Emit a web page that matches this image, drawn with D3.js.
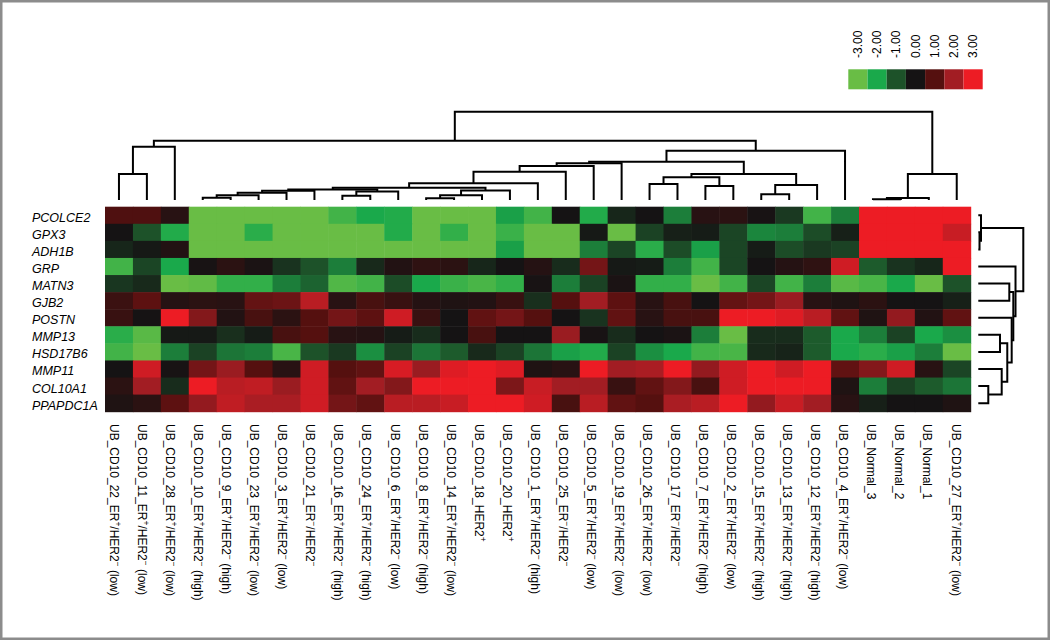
<!DOCTYPE html>
<html>
<head>
<meta charset="utf-8">
<script src="https://cdn.jsdelivr.net/npm/d3@7/dist/d3.min.js"></script>
<style>
  html, body { margin: 0; padding: 0; background: #ffffff; }
  text { font-family: "Liberation Sans", Arial, Helvetica, sans-serif; fill: #000; }
</style>
</head>
<body>
<script>
// ---------------- DATA ----------------
const colLabels = [
  "UB_CD10_22_ER⁺/HER2⁻ (low)",
  "UB_CD10_11_ER⁺/HER2⁻ (low)",
  "UB_CD10_28_ER⁺/HER2⁻ (low)",
  "UB_CD10_10_ER⁺/HER2⁻ (high)",
  "UB_CD10_9_ER⁺/HER2⁻ (high)",
  "UB_CD10_23_ER⁺/HER2⁻ (low)",
  "UB_CD10_3_ER⁺/HER2⁻ (low)",
  "UB_CD10_21_ER⁻/HER2⁻",
  "UB_CD10_16_ER⁺/HER2⁻ (high)",
  "UB_CD10_24_ER⁺/HER2⁻ (high)",
  "UB_CD10_6_ER⁺/HER2⁻ (low)",
  "UB_CD10_8_ER⁺/HER2⁻ (high)",
  "UB_CD10_14_ER⁺/HER2⁻ (low)",
  "UB_CD10_18_HER2⁺",
  "UB_CD10_20_HER2⁺",
  "UB_CD10_1_ER⁺/HER2⁻ (high)",
  "UB_CD10_25_ER⁻/HER2⁻",
  "UB_CD10_5_ER⁺/HER2⁻ (low)",
  "UB_CD10_19_ER⁺/HER2⁻ (low)",
  "UB_CD10_26_ER⁺/HER2⁻ (low)",
  "UB_CD10_17_ER⁻/HER2⁻",
  "UB_CD10_7_ER⁺/HER2⁻ (high)",
  "UB_CD10_2_ER⁺/HER2⁻ (low)",
  "UB_CD10_15_ER⁺/HER2⁻ (high)",
  "UB_CD10_13_ER⁺/HER2⁻ (high)",
  "UB_CD10_12_ER⁺/HER2⁻ (high)",
  "UB_CD10_4_ER⁺/HER2⁻ (low)",
  "UB_Normal_3",
  "UB_Normal_2",
  "UB_Normal_1",
  "UB_CD10_27_ER⁺/HER2⁻ (low)"
];

const rowLabels = ["PCOLCE2","GPX3","ADH1B","GRP","MATN3","GJB2","POSTN","MMP13","HSD17B6","MMP11","COL10A1","PPAPDC1A"];

// expression values (rows = genes, columns = samples)
const PCOLCE2  = [0.9,0.9,0.3,-3,-3,-3,-3,-3,-2.5,-2,-2.1,-3,-3,-3,-1.9,-2.5,0,-2.1,-0.3,0,-1.5,0.3,0.35,0.05,-0.6,-2.5,-1.5,3,3,3,3];
const GPX3     = [0,-1,-2.1,-3,-3,-2.2,-3,-3,-3,-3,-2.1,-3,-2.3,-3,-2.4,-3,-3,-0.1,-3,-0.75,-0.2,-0.15,-0.8,-1.6,-1.5,-0.9,-0.2,3,3,3,2.5];
const ADH1B    = [-0.3,-0.1,0.2,-3,-3,-3,-3,-3,-3,-3,-3,-3,-3,-3,-1.9,-3,-3,-1.5,-0.8,-2.2,-0.9,-1.9,-0.8,-0.15,-0.9,-0.6,-0.75,3,3,3,3];
const GRP      = [-2.5,-0.8,-2,0.05,0.35,0.1,-0.5,-1,-1.5,-0.35,0.2,0.4,0.35,-0.3,0,0.25,-0.4,1.4,-0.1,-0.15,-1.5,-2.5,-0.8,0,0.25,0.4,2.6,-1.1,-0.5,-0.3,3];
const MATN3    = [-0.55,-0.35,-3,-2.9,-2.3,-2.3,-1.5,-1.2,-2.7,-2.5,-0.9,-2,-2.4,-2.6,-2.3,0.05,-1.5,-0.75,0.1,-2.3,-2.3,-3,-2.5,-0.8,-2.5,-1.5,-2.8,-2.6,-2,-3,-1];
const GJB2     = [0.6,1.1,0.25,0.35,0.3,1.2,1.3,2.3,0.3,0.8,0.55,0.25,0.15,0.2,0.55,-0.45,1,2,1.1,0.3,0.8,0,1.2,1.4,1.9,0.3,0.15,0.35,0,0,-0.2];
const POSTN    = [0.55,0.02,3,1.6,0.2,0.8,0.35,1,1.4,1.1,2.6,0.55,0,1.15,1.4,1,0,-0.5,1.15,0.3,0.8,0.8,3,3,2.8,2.3,1.15,0.15,1.8,0.2,1.15];
const MMP13    = [-2.2,-2.8,-0.1,-0.1,-0.45,-0.15,0.8,1,0.3,0.25,-0.15,-0.4,0,0.8,0,0,1.9,0.05,-0.4,0,0.1,-1.5,-3,-0.4,-0.4,-1.1,-2,-1.5,-0.75,-2,-1.7];
const HSD17B6  = [-2.5,-3,-1.5,-0.75,-1.4,-1.5,-2.6,-1,-0.6,-1.7,-0.75,-1.4,-1.1,-0.35,-0.75,-1.4,-1.9,-2.1,-0.75,-1.7,-2,-2.5,-2.6,-0.35,-0.25,-1.1,-2,-2.2,-1.9,-1.5,-3];
const MMP11    = [0,2.6,0.05,1.4,1.9,1,0.3,2.6,1,1.15,2.7,1.9,2.8,3,2.8,0.15,0.3,3,2,2.1,3,1.8,2.6,3,2.6,3,1.15,1.6,2.6,0.3,-0.8];
const COL10A1  = [0.35,2,-0.4,3,2.3,2.4,1.9,2.6,1.15,2,1.6,3,3,3,1.5,2.5,2,2,0.55,1.15,1.6,0.8,2.6,3,3,3,0.15,-1.5,-0.75,-1.1,-1.4];
const PPAPDC1A = [0.15,0.35,1.1,1.8,2.4,2.1,2.1,2.6,1.4,1.15,2.3,2.3,2.5,3,3,2.6,0.8,2.3,1.15,1,2.1,2.3,3,1.8,2.5,2,0.3,-0.2,0,0,0.15];
const values = [PCOLCE2, GPX3, ADH1B, GRP, MATN3, GJB2, POSTN, MMP13, HSD17B6, MMP11, COL10A1, PPAPDC1A];

// colour key
const legendTicks = [-3,-2,-1,0,1,2,3];
const legendTickLabels = ["-3.00","-2.00","-1.00","0.00","1.00","2.00","3.00"];
const legendColors = ["#69bd45","#1aa94b","#1d5229","#151314","#55100f","#a21d23","#ed1c24"];

// column dendrogram merges (R hclust style: negative = leaf, positive = earlier merge), height
const colMerges = [
  [-1,-2,2.94],[1,-3,6.04],[-4,-5,0.26],[3,-6,0.53],[4,-7,0.83],[5,-8,1.05],
  [-9,-10,0.49],[7,-11,0.96],[6,8,1.19],[-12,-13,0.19],[10,-14,0.53],[11,-15,1.08],
  [9,12,1.39],[13,-16,1.89],[14,-17,3.2],[15,-18,3.85],[16,-19,4.16],
  [-20,-21,1.81],[-22,-23,1.59],[-24,-25,0.65],[20,-26,1.7],[18,19,2.57],[22,21,2.94],
  [17,23,4.34],[24,-27,5.58],[2,25,6.72],[-28,-29,0.08],[27,-30,0.23],[28,-31,2.94],[26,29,10]
];
// row dendrogram merges
const rowMerges = [
  [-2,-3,0.27],[-1,1,0.6],[-11,-12,2.22],[-8,-9,4.82],[-10,3,5.2],[4,5,6.44],
  [-7,6,7.42],[-5,-6,6.89],[8,7,7.78],[-4,9,8.27],[2,10,10]
];

// ---------------- DRAWING ----------------
const W = 1050, H = 640;
const svg = d3.select("body").append("svg").attr("width", W).attr("height", H);

// frame
svg.append("rect").attr("x", 0).attr("y", 0).attr("width", W).attr("height", H)
  .attr("fill", "#fff").attr("stroke", "#8c8c8c").attr("stroke-width", 5);

const x = d3.scaleBand().domain(d3.range(colLabels.length)).range([105, 970.7]).padding(0);
const y = d3.scaleBand().domain(d3.range(rowLabels.length)).range([206.7, 411.7]).padding(0);
const color = d3.scaleLinear().domain(legendTicks).range(legendColors).clamp(true);

// heatmap cells
const cells = [];
values.forEach((row, r) => row.forEach((v, c) => cells.push({r, c, v})));
svg.append("g").selectAll("rect").data(cells).join("rect")
  .attr("x", d => x(d.c)).attr("y", d => y(d.r))
  .attr("width", x.bandwidth() + 0.5).attr("height", y.bandwidth() + 0.5)
  .attr("fill", d => color(d.v));

// row labels
svg.append("g").selectAll("text").data(rowLabels).join("text")
  .attr("x", 32).attr("y", (d, i) => y(i) + y.bandwidth() / 2 + 6.5)
  .attr("font-size", 12.5).attr("font-style", "italic")
  .text(d => d);

// column labels (with superscripts)
const labelX = d3.scalePoint().domain(d3.range(colLabels.length)).range([114, 955.5]);
function addRich(sel, str, baseSize) {
  const parts = [];
  for (const ch of str) {
    const sup = (ch === "⁺" || ch === "⁻");
    const t = sup ? (ch === "⁺" ? "+" : "−") : ch;
    if (parts.length && parts[parts.length - 1].sup === sup) parts[parts.length - 1].t += t;
    else parts.push({sup, t});
  }
  let raised = false;
  parts.forEach(p => {
    const ts = sel.append("tspan").text(p.t);
    if (p.sup) { ts.attr("font-size", baseSize * 0.7).attr("dy", -4); raised = true; }
    else if (raised) { ts.attr("dy", 4); raised = false; }
  });
}
const colG = svg.append("g");
colLabels.forEach((lab, i) => {
  const t = colG.append("text")
    .attr("transform", `translate(${labelX(i)},424) rotate(90)`)
    .attr("font-size", 12).attr("dominant-baseline", "central");
  addRich(t, lab, 12);
});

// dendrogram helper
function dendroSegments(merges, leafPos) {
  const nodes = merges.map(() => null);
  const get = a => a < 0 ? {p: leafPos(-a - 1), h: 0} : nodes[a - 1];
  const segs = [];
  merges.forEach((m, k) => {
    const A = get(m[0]), B = get(m[1]);
    nodes[k] = {p: (A.p + B.p) / 2, h: m[2]};
    segs.push({a: A, b: B, h: m[2]});
  });
  return segs;
}

// column dendrogram
const colH = d3.scaleLinear().domain([0, 10]).range([200, 111.7]);
const colSegs = dendroSegments(colMerges, i => x(i) + x.bandwidth() / 2);
svg.append("g").selectAll("path").data(colSegs).join("path")
  .attr("d", s => `M${s.a.p},${colH(s.a.h)}V${colH(s.h)}H${s.b.p}V${colH(s.b.h)}`)
  .attr("fill", "none").attr("stroke", "#000").attr("stroke-width", 2);

// row dendrogram
const rowH = d3.scaleLinear().domain([0, 10]).range([978.3, 1023.3]);
const rowSegs = dendroSegments(rowMerges, i => y(i) + y.bandwidth() / 2);
svg.append("g").selectAll("path").data(rowSegs).join("path")
  .attr("d", s => `M${rowH(s.a.h)},${s.a.p}H${rowH(s.h)}V${s.b.p}H${rowH(s.b.h)}`)
  .attr("fill", "none").attr("stroke", "#000").attr("stroke-width", 2);

// colour key
const lx = d3.scaleBand().domain(legendTicks).range([848.3, 982.7]).padding(0);
const key = svg.append("g");
key.selectAll("rect").data(legendTicks).join("rect")
  .attr("x", d => lx(d)).attr("y", 69.3)
  .attr("width", lx.bandwidth()).attr("height", 20)
  .attr("fill", d => color(d));
key.selectAll("text").data(legendTicks).join("text")
  .attr("transform", d => `translate(${lx(d) + lx.bandwidth() / 2},58) rotate(-90)`)
  .attr("font-size", 12).attr("dominant-baseline", "central")
  .text((d, i) => legendTickLabels[i]);
</script>
</body>
</html>
